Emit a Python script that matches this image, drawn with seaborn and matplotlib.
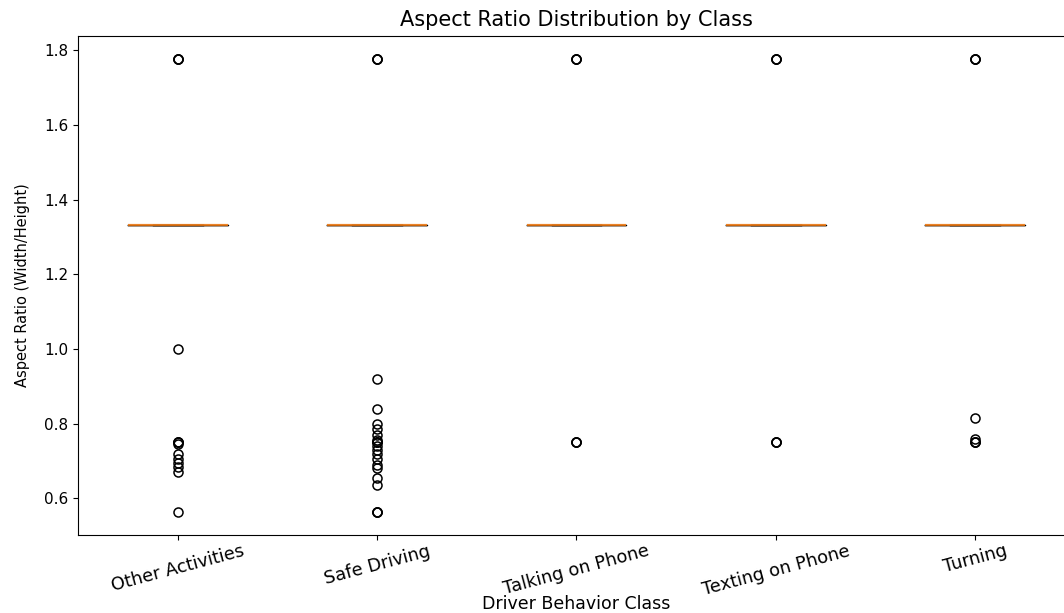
import numpy as np
import pandas as pd
import matplotlib
matplotlib.use("Agg")
import matplotlib.pyplot as plt
import seaborn as sns

# Driver behaviour classes
classes = ["Other Activities", "Safe Driving", "Talking on Phone",
           "Texting on Phone", "Turning"]

# Dominant aspect ratio (4:3 frames) and how many images have it per class
common_ratio = 4 / 3
common_counts = [300, 300, 300, 300, 300]

# Remaining aspect ratios found in each class
other_ratios = [
    [16 / 9, 16 / 9, 16 / 9, 1.0, 0.75, 0.75, 0.75, 0.745, 0.72, 0.705,
     0.695, 0.685, 0.67, 9 / 16],
    [16 / 9, 16 / 9, 16 / 9, 0.92, 0.84, 0.80, 0.785, 0.77, 0.755, 0.75,
     0.75, 0.75, 0.74, 0.73, 0.72, 0.705, 0.69, 0.68, 0.655, 0.635,
     9 / 16, 9 / 16, 9 / 16],
    [16 / 9, 16 / 9, 16 / 9, 0.75, 0.75, 0.75],
    [16 / 9, 16 / 9, 16 / 9, 0.75, 0.75, 0.75],
    [16 / 9, 16 / 9, 16 / 9, 0.815, 0.76, 0.75, 0.75, 0.75],
]

rows = []
for cls, n, extra in zip(classes, common_counts, other_ratios):
    rows += [(cls, common_ratio)] * n
    rows += [(cls, r) for r in extra]
df = pd.DataFrame(rows, columns=["Class", "Aspect Ratio"])

plt.rcParams["font.family"] = ["DejaVu Sans"]

fig = plt.figure(figsize=(10.64, 6.13), dpi=100)
ax = fig.add_axes([0.0733, 0.1272, 0.937, 0.8141])

sns.boxplot(
    data=df, x="Class", y="Aspect Ratio", order=classes, ax=ax,
    fill=False, color="black", width=0.5, linewidth=1.0, whis=1.5,
    medianprops=dict(color="#ff7f0e", linewidth=1.6, alpha=0.8, zorder=5),
    flierprops=dict(marker="o", markerfacecolor="none",
                    markeredgecolor="black", markersize=6.5,
                    markeredgewidth=1.1),
)

ax.set_ylim(0.5017, 1.8385)
ax.set_yticks([0.6, 0.8, 1.0, 1.2, 1.4, 1.6, 1.8])
ax.set_xlim(-0.5, 4.5)
ax.tick_params(axis="y", labelsize=11)
ax.tick_params(axis="x", pad=1.5)

ax.set_title("Aspect Ratio Distribution by Class", fontsize=15, pad=7)
ax.set_xlabel("Driver Behavior Class", fontsize=12.5, labelpad=-3)
ax.set_ylabel("Aspect Ratio (Width/Height)", fontsize=10.5, labelpad=10)
ax.set_xticks(range(len(classes)))
ax.set_xticklabels(classes, rotation=15, fontsize=12.8)

fig.savefig("out.png", dpi=100)
